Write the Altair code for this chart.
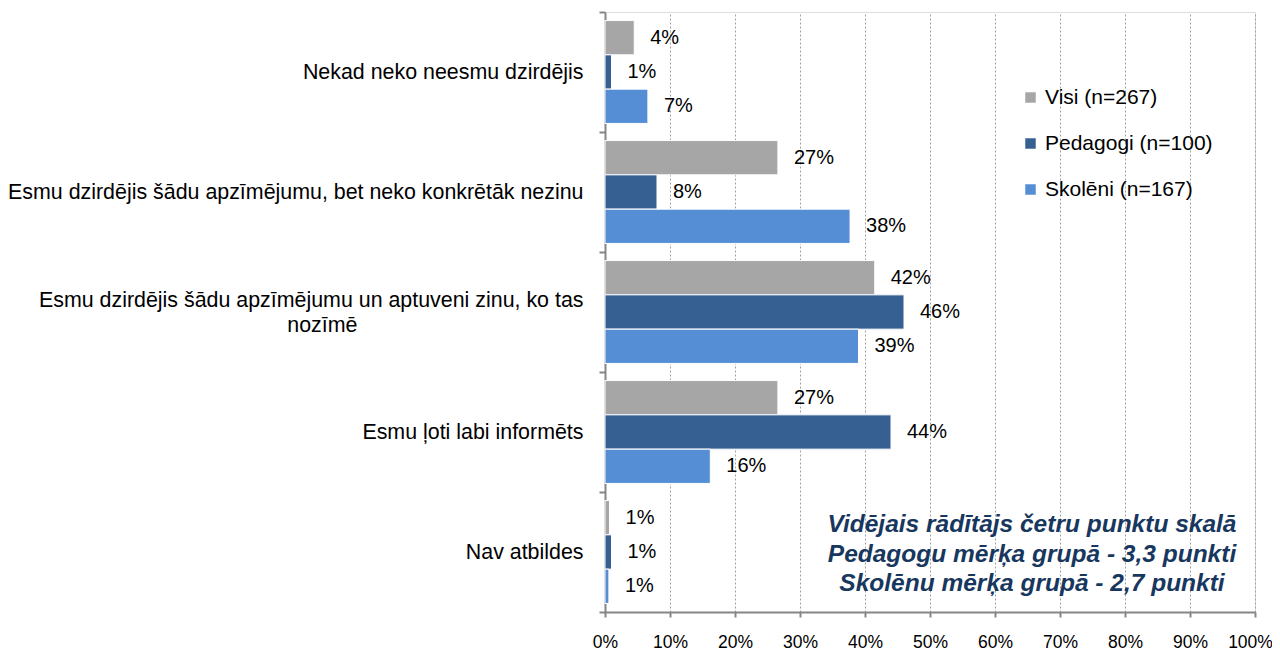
import altair as alt
import pandas as pd

categories = [
    "Nekad neko neesmu dzirdējis",
    "Esmu dzirdējis šādu apzīmējumu, bet neko konkrētāk nezinu",
    "Esmu dzirdējis šādu apzīmējumu un aptuveni zinu, ko tas\nnozīmē",
    "Esmu ļoti labi informēts",
    "Nav atbildes",
]
series = ["Visi (n=267)", "Pedagogi (n=100)", "Skolēni (n=167)"]
colors = ["#A6A6A6", "#366092", "#558ED5"]

visi = [4.5, 26.6, 41.5, 26.6, 0.7]
pedagogi = [1.0, 8.0, 46.0, 44.0, 1.0]
skoleni = [6.6, 37.7, 39.0, 16.2, 0.6]

visi_lbl = ["4%", "27%", "42%", "27%", "1%"]
pedagogi_lbl = ["1%", "8%", "46%", "44%", "1%"]
skoleni_lbl = ["7%", "38%", "39%", "16%", "1%"]

note_lines = [
    "Vidējais rādītājs četru punktu skalā",
    "Pedagogu mērķa grupā - 3,3 punkti",
    "Skolēnu mērķa grupā - 2,7 punkti",
]

rows = []
for vals, lbls, s in [(visi, visi_lbl, series[0]), (pedagogi, pedagogi_lbl, series[1]), (skoleni, skoleni_lbl, series[2])]:
    for c, v, l in zip(categories, vals, lbls):
        rows.append({"cat": c, "series": s, "value": v, "label": l})
df = pd.DataFrame(rows)

FONT = "Liberation Sans"

# wrapped label: second line centred under the first (Excel style):
# figure-space padding closed by a zero-width space so it is not trimmed
pad = "\\u2007" * 19 + "\\u200b"
label_expr = (
    "indexof(datum.label, '\\n') >= 0 ? "
    "[split(datum.label, '\\n')[0], split(datum.label, '\\n')[1] + '" + pad + "'] : datum.label"
)

y_enc = alt.Y(
    "cat:N",
    sort=categories,
    scale=alt.Scale(paddingInner=0, paddingOuter=0),
    axis=alt.Axis(
        title=None,
        labelExpr=label_expr,
        labelFontSize=21.4,
        labelColor="#000000",
        labelFont=FONT,
        labelPadding=16,
        labelLimit=700,
        labelLineHeight=25,
        labelOffset={"condition": {"test": "indexof(datum.label, '\\n') >= 0", "value": -12}, "value": 0},
        tickBand="extent",
        tickSize=6,
        tickColor="#868686",
        tickWidth=2,
        domainColor="#868686",
        domainWidth=2,
        grid=False,
    ),
)
yoff = alt.YOffset(
    "series:N",
    sort=series,
    scale=alt.Scale(paddingOuter=0.25, paddingInner=0),
)
x_enc = alt.X(
    "value:Q",
    scale=alt.Scale(domain=[0, 100], nice=False),
    axis=alt.Axis(
        title=None,
        values=list(range(0, 101, 10)),
        labelExpr="datum.value + '%'",
        labelFontSize=17.5,
        labelColor="#000000",
        labelFont=FONT,
        labelFlush=False,
        labelPadding=16,
        labelOffset={"condition": {"test": "datum.value == 100", "value": -5}, "value": 0},
        tickSize=5,
        tickColor="#868686",
        tickWidth=2,
        domainColor="#868686",
        domainWidth=2,
        grid=True,
        gridColor="#A0A0A0",
        gridDash=[2, 2],
        gridWidth=1,
    ),
)

bars = alt.Chart(df).mark_bar(stroke="white", strokeWidth=1).encode(
    y=y_enc,
    yOffset=yoff,
    x=x_enc,
    color=alt.Color(
        "series:N",
        sort=series,
        scale=alt.Scale(domain=series, range=colors),
        legend=alt.Legend(
            title=None,
            orient="none",
            legendX=415,
            legendY=75,
            symbolType="square",
            symbolSize=110,
            symbolStrokeWidth=0,
            labelFontSize=21,
            labelFont=FONT,
            labelColor="#000000",
            labelLimit=300,
            rowPadding=24,
            labelOffset=4,
            padding=0,
        ),
    ),
)

texts = alt.Chart(df).mark_text(
    align="left", baseline="middle", dx=16, fontSize=20, font=FONT, color="#000000"
).encode(
    y=alt.Y("cat:N", sort=categories),
    yOffset=alt.YOffset("series:N", sort=series),
    x=alt.X("value:Q"),
    text="label:N",
)

note = alt.Chart(pd.DataFrame({"t": [note_lines]})).mark_text(
    align="center",
    baseline="middle",
    fontSize=24.5,
    fontWeight="bold",
    fontStyle="italic",
    font=FONT,
    color="#17375E",
    lineHeight=29.5,
).encode(
    x=alt.value(427),
    y=alt.value(513),
    text="t",
)

chart = (
    alt.layer(bars, texts, note)
    .properties(
        width=650,
        height=600,
        padding={"left": 597, "top": 4, "right": 17, "bottom": 38},
        autosize=alt.AutoSizeParams(type="none"),
    )
    .configure_view(stroke=None)
    .configure(font=FONT)
)

chart.save("out.html", embed_options={"renderer": "svg", "actions": False})
